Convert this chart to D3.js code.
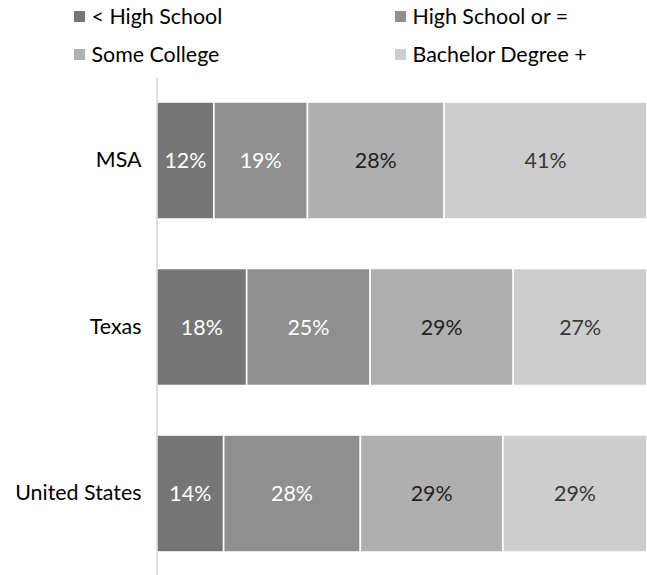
<!DOCTYPE html>
<html>
<head>
<meta charset="utf-8">
<script src="https://cdn.jsdelivr.net/npm/d3@7"></script>
<style>
  html, body { margin: 0; padding: 0; background: #fff; }
  svg { display: block; }
  text { font-family: Lato, "Open Sans", sans-serif; }
</style>
</head>
<body>
<div id="chart"></div>
<script>
// ---- data ----
const categories = ["MSA", "Texas", "United States"];
const seriesNames = ["< High School", "High School or =", "Some College", "Bachelor Degree +"];
const lessThanHS   = [11.6, 18.3, 13.6];
const highSchool   = [19.1, 25.2, 27.9];
const someCollege  = [27.9, 29.2, 29.1];
const bachelorPlus = [41.4, 27.3, 29.4];
const seriesColors = ["#767676", "#8f8f8f", "#afafaf", "#cdcdcd"];
const labelColors  = ["#ffffff", "#ffffff", "#222222", "#383838"];

const W = 647, H = 575;
const fontSize = 21.4;

const rows = categories.map((c, i) => ({
  cat: c,
  s0: lessThanHS[i], s1: highSchool[i], s2: someCollege[i], s3: bachelorPlus[i]
}));
const keys = ["s0", "s1", "s2", "s3"];
const stacked = d3.stack().keys(keys)(rows);

const svg = d3.select("#chart").append("svg").attr("width", W).attr("height", H);

const x = d3.scaleLinear().domain([0, 100]).range([157, 647]);
const y = d3.scaleBand().domain(categories).range([77.25, 576.75])
  .paddingInner(0.297).paddingOuter(0.1485);

// bars
const layers = svg.append("g").selectAll("g").data(stacked).join("g")
  .attr("fill", (d, i) => seriesColors[i]);
layers.selectAll("rect").data(d => d).join("rect")
  .attr("x", d => x(d[0]))
  .attr("y", d => y(d.data.cat))
  .attr("width", d => x(d[1]) - x(d[0]))
  .attr("height", y.bandwidth())
  .attr("stroke", "#fff")
  .attr("stroke-width", 1.6);

// labels
const fmt = v => Math.round(v) + "%";
const labels = svg.append("g").selectAll("g").data(stacked).join("g")
  .attr("fill", (d, i) => labelColors[i]);
labels.selectAll("text").data(d => d).join("text")
  .attr("x", d => (x(d[0]) + x(d[1])) / 2)
  .attr("y", d => y(d.data.cat) + y.bandwidth() / 2)
  .attr("dy", "0.36em")
  .attr("text-anchor", "middle")
  .style("font-size", fontSize + "px")
  .text(d => fmt(d[1] - d[0]));

// axis
const axis = svg.append("g").attr("transform", "translate(156.5,0)")
  .call(d3.axisLeft(y).tickSize(0).tickPadding(15));
axis.select(".domain").attr("stroke", "#bfbfbf").attr("stroke-width", 1);
axis.selectAll(".tick text")
  .style("font-size", fontSize + "px")
  .style("font-family", "Lato, 'Open Sans', sans-serif")
  .attr("fill", "#000");

// legend
const legendPos = [[74, 16.5], [395, 16.5], [74, 54.5], [395, 54.5]];
const legend = svg.append("g").selectAll("g").data(seriesNames).join("g")
  .attr("transform", (d, i) => `translate(${legendPos[i][0]},${legendPos[i][1]})`);
legend.append("rect")
  .attr("x", 0).attr("y", -5.5).attr("width", 11).attr("height", 11)
  .attr("fill", (d, i) => seriesColors[i]);
legend.append("text")
  .attr("x", 17.5).attr("y", 0).attr("dy", "0.36em")
  .style("font-size", fontSize + "px")
  .attr("fill", "#000")
  .text(d => d);
</script>
</body>
</html>
